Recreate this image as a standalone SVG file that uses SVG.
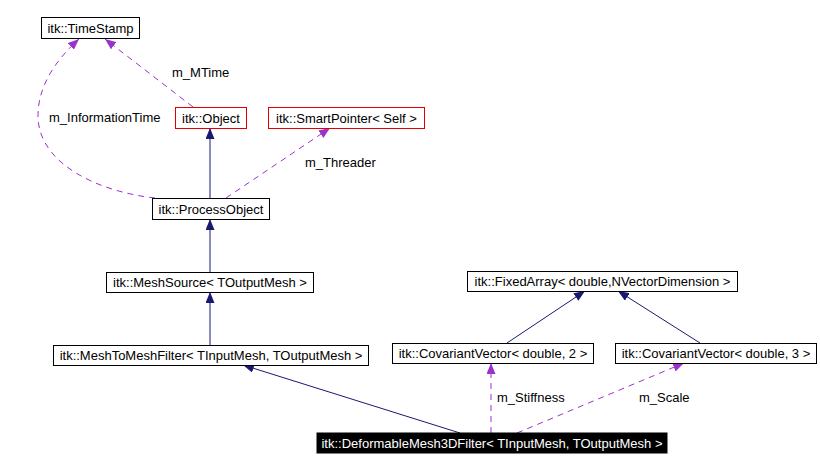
<svg xmlns="http://www.w3.org/2000/svg" width="820" height="470" viewBox="0 0 820 470">
<style>
text{font-family:"Liberation Sans",Arial,sans-serif;font-size:13px;fill:#000}
.n rect{fill:#fff;stroke:#000;stroke-width:1}
.n.red rect{stroke:#e00000}
.n text{text-anchor:middle}
#n_deform rect{fill:#000}
#n_deform text{fill:#fff}
.inh{fill:none;stroke:#191970;stroke-width:1}
.use{fill:none;stroke:#9a32cd;stroke-width:1;stroke-dasharray:6,5}
</style>
<defs>
<marker id="aN" markerUnits="userSpaceOnUse" markerWidth="11" markerHeight="9" refX="11" refY="4.5" orient="auto"><path d="M0,0 L11,4.5 L0,9 z" fill="#191970"/></marker>
<marker id="aP" markerUnits="userSpaceOnUse" markerWidth="11" markerHeight="9" refX="11" refY="4.5" orient="auto"><path d="M0,0 L11,4.5 L0,9 z" fill="#9a32cd"/></marker>
</defs>
<rect width="820" height="470" fill="#fff"/>
<g id="edges">
<path class="use" d="M193,107 L105,39" marker-end="url(#aP)"/>
<path class="use" d="M155,198 C100,192 40,165 38,118 C37,85 58,58 79,39" marker-end="url(#aP)"/>
<path class="use" d="M226,198 L330,128" marker-end="url(#aP)"/>
<path class="inh" d="M210,198 L210,128" marker-end="url(#aN)"/>
<path class="inh" d="M210,272 L210,219" marker-end="url(#aN)"/>
<path class="inh" d="M210,345 L210,292" marker-end="url(#aN)"/>
<path class="inh" d="M460,433 L243,365" marker-end="url(#aN)"/>
<path class="inh" d="M507,343 L585,291" marker-end="url(#aN)"/>
<path class="inh" d="M700,343 L618,291" marker-end="url(#aN)"/>
<path class="use" d="M491,433 L491,363" marker-end="url(#aP)"/>
<path class="use" d="M517,433 L684,363" marker-end="url(#aP)"/>
<text x="172" y="77">m_MTime</text>
<text x="49" y="122">m_InformationTime</text>
<text x="305" y="167">m_Threader</text>
<text x="497" y="402">m_Stiffness</text>
<text x="639" y="402">m_Scale</text>
</g>
<g id="n_timestamp" class="n"><rect x="41.5" y="17.5" width="98" height="21"/><text x="90.5" y="33">itk::TimeStamp</text></g>
<g id="n_object" class="n red"><rect x="175.5" y="107.5" width="71" height="21"/><text x="211" y="123">itk::Object</text></g>
<g id="n_smartpointer" class="n red"><rect x="268.5" y="107.5" width="156" height="21"/><text x="346.5" y="123">itk::SmartPointer&lt; Self &gt;</text></g>
<g id="n_processobject" class="n"><rect x="152.5" y="198.5" width="117" height="21"/><text x="211" y="214">itk::ProcessObject</text></g>
<g id="n_meshsource" class="n"><rect x="106.5" y="272.5" width="207" height="20"/><text x="210" y="287">itk::MeshSource&lt; TOutputMesh &gt;</text></g>
<g id="n_meshtomesh" class="n"><rect x="53.5" y="345.5" width="315" height="20"/><text x="211" y="360">itk::MeshToMeshFilter&lt; TInputMesh, TOutputMesh &gt;</text></g>
<g id="n_fixedarray" class="n"><rect x="467.5" y="271.5" width="270" height="20"/><text x="602.5" y="286">itk::FixedArray&lt; double,NVectorDimension &gt;</text></g>
<g id="n_covvec2" class="n"><rect x="392.5" y="343.5" width="201" height="20"/><text x="493" y="358">itk::CovariantVector&lt; double, 2 &gt;</text></g>
<g id="n_covvec3" class="n"><rect x="615.5" y="343.5" width="201" height="20"/><text x="716" y="358">itk::CovariantVector&lt; double, 3 &gt;</text></g>
<g id="n_deform" class="n"><rect x="317" y="433" width="350" height="20"/><text x="492" y="448">itk::DeformableMesh3DFilter&lt; TInputMesh, TOutputMesh &gt;</text></g>
</svg>
